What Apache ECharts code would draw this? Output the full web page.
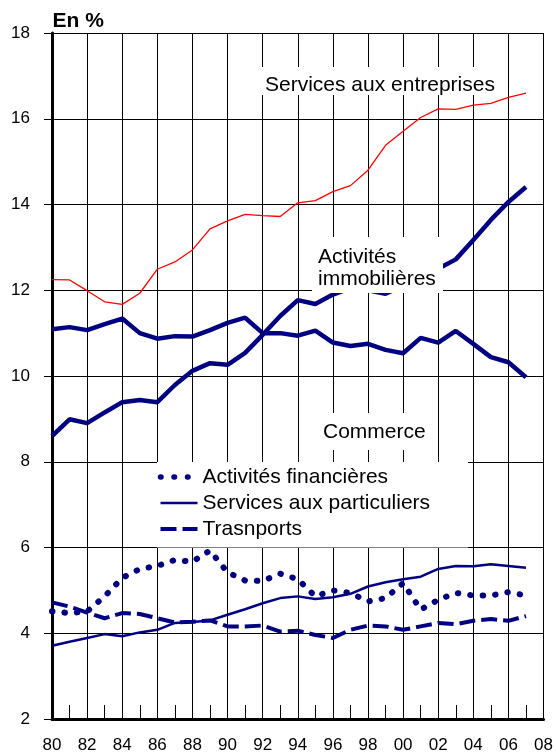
<!DOCTYPE html>
<html>
<head>
<meta charset="utf-8">
<script src="https://cdn.jsdelivr.net/npm/echarts@6/dist/echarts.min.js"></script>
<style>
  html, body { margin: 0; padding: 0; background: #fff; }
  #chart { width: 556px; height: 755px; }
</style>
</head>
<body>
<div id="chart"></div>
<script>
// Part de chaque secteur, en %, 1980-2007
const years = [1980, 1981, 1982, 1983, 1984, 1985, 1986, 1987, 1988, 1989,
               1990, 1991, 1992, 1993, 1994, 1995, 1996, 1997, 1998, 1999,
               2000, 2001, 2002, 2003, 2004, 2005, 2006, 2007];

const servicesEntreprises = [12.25, 12.24, 11.99, 11.73, 11.67, 11.93, 12.49, 12.66, 12.94, 13.43,
                             13.62, 13.77, 13.74, 13.72, 14.04, 14.09, 14.30, 14.44, 14.80, 15.38,
                             15.71, 16.03, 16.23, 16.22, 16.32, 16.36, 16.50, 16.60];

const commerce = [11.09, 11.14, 11.07, 11.21, 11.34, 11.00, 10.87, 10.93, 10.92, 11.07,
                  11.24, 11.36, 11.00, 11.00, 10.94, 11.06, 10.78, 10.70, 10.75, 10.61,
                  10.53, 10.89, 10.78, 11.05, 10.75, 10.44, 10.32, 9.97];

const immobilieres = [8.60, 8.99, 8.90, 9.15, 9.39, 9.44, 9.39, 9.79, 10.12, 10.30,
                      10.26, 10.54, 10.96, 11.40, 11.77, 11.68, 11.90, 12.05, 12.00, 11.92,
                      12.10, 12.30, 12.50, 12.72, 13.17, 13.64, 14.06, 14.41];

const financieres = [4.51, 4.47, 4.51, 4.86, 5.29, 5.50, 5.57, 5.71, 5.67, 5.93,
                     5.42, 5.23, 5.22, 5.39, 5.26, 4.86, 5.00, 4.94, 4.74, 4.82,
                     5.17, 4.55, 4.78, 4.94, 4.88, 4.88, 4.96, 4.88];

const particuliers = [3.71, 3.80, 3.89, 3.98, 3.93, 4.02, 4.08, 4.24, 4.26, 4.30,
                      4.43, 4.56, 4.70, 4.82, 4.86, 4.80, 4.84, 4.92, 5.09, 5.19,
                      5.26, 5.32, 5.50, 5.57, 5.56, 5.61, 5.57, 5.53];

const transports = [4.72, 4.62, 4.48, 4.35, 4.47, 4.45, 4.35, 4.25, 4.27, 4.30,
                    4.16, 4.16, 4.18, 4.04, 4.06, 3.96, 3.89, 4.08, 4.18, 4.16,
                    4.08, 4.16, 4.24, 4.21, 4.29, 4.33, 4.29, 4.40];

const FONT = "'Liberation Sans', Arial, Helvetica, sans-serif";
const NAVY = '#000080';

// line looks shared by the plotted series and their legend icons
const DOTS = { color: NAVY, width: 6, type: [0.5, 12], cap: 'round' };
const SOLID = { color: NAVY, width: 2.5, type: 'solid' };
const DASHES = { color: NAVY, width: 4, type: [16, 6], cap: 'butt' };

const pairs = values => years.map((y, i) => [y, values[i]]);

const lineSeries = (name, values, lineStyle) => ({
  name,
  type: 'line',
  data: pairs(values),
  symbol: 'none',
  smooth: false,
  silent: true,
  emphasis: { disabled: true },
  lineStyle: Object.assign({ color: NAVY }, lineStyle)
});

const chart = echarts.init(document.getElementById('chart'), null, { renderer: 'canvas' });

chart.setOption({
  animation: false,
  backgroundColor: '#fff',
  grid: { left: 52, right: 12, top: 33, bottom: 36, containLabel: false },
  xAxis: {
    type: 'value',
    min: 1980,
    max: 2008,
    interval: 2,
    axisLine: { show: true, onZero: false, lineStyle: { color: '#000', width: 3 } },
    axisTick: { show: true, inside: true, length: 14, lineStyle: { color: '#000', width: 1 } },
    minorTick: { show: true, splitNumber: 2, length: 14, lineStyle: { color: '#000', width: 1 } },
    splitLine: { show: true, lineStyle: { color: '#000', width: 1 } },
    axisLabel: {
      margin: 18, fontSize: 17, color: '#000', fontFamily: FONT,
      formatter: v => String(v).slice(2)
    }
  },
  yAxis: {
    type: 'value',
    min: 2,
    max: 18,
    interval: 2,
    axisLine: { show: true, onZero: false, lineStyle: { color: '#000', width: 3 } },
    axisTick: { show: true, length: 8, lineStyle: { color: '#000', width: 1 } },
    splitLine: { show: true, lineStyle: { color: '#000', width: 1 } },
    axisLabel: { margin: 22, fontSize: 17, color: '#000', fontFamily: FONT }
  },
  legend: {
    orient: 'vertical',
    left: 157,
    top: 462,
    padding: [4.5, 38, 8, 0.75],
    backgroundColor: '#fff',
    itemWidth: 37,
    itemHeight: 14,
    itemGap: 5,
    selectedMode: false,
    itemStyle: { opacity: 0 },
    textStyle: { fontSize: 21, color: '#000', fontFamily: FONT },
    data: [
      { name: 'Activités financières', lineStyle: Object.assign({}, DOTS, { width: 5.5, type: [0.5, 13] }) },
      { name: 'Services aux particuliers', lineStyle: SOLID },
      { name: 'Trasnports', lineStyle: DASHES }
    ],
    z: 5
  },
  series: [
    lineSeries('Services aux entreprises', servicesEntreprises, { color: '#ff0000', width: 1.3 }),
    lineSeries('Commerce', commerce, { width: 4.5 }),
    lineSeries('Activités immobilières', immobilieres, { width: 4.5 }),
    lineSeries('Activités financières', financieres, DOTS),
    lineSeries('Services aux particuliers', particuliers, SOLID),
    lineSeries('Trasnports', transports, DASHES)
  ],
  graphic: [
    { type: 'text', z: 101, x: 52.5, y: 20.8,
      style: { text: 'En %', font: 'bold 21px ' + FONT, fill: '#000', align: 'left', verticalAlign: 'middle' } },

    { type: 'rect', z: 100, shape: { x: 259, y: 67, width: 244, height: 28 }, style: { fill: '#fff' } },
    { type: 'text', z: 101, x: 265, y: 85.5,
      style: { text: 'Services aux entreprises', font: '21px ' + FONT, fill: '#000', align: 'left', verticalAlign: 'middle' } },

    { type: 'rect', z: 100, shape: { x: 312, y: 237, width: 131, height: 56 }, style: { fill: '#fff' } },
    { type: 'text', z: 101, x: 318, y: 257.5,
      style: { text: 'Activités', font: '21px ' + FONT, fill: '#000', align: 'left', verticalAlign: 'middle' } },
    { type: 'text', z: 101, x: 318, y: 279.2,
      style: { text: 'immobilières', font: '21px ' + FONT, fill: '#000', align: 'left', verticalAlign: 'middle' } },

    { type: 'rect', z: 100, shape: { x: 317, y: 413, width: 116, height: 37 }, style: { fill: '#fff' } },
    { type: 'text', z: 101, x: 323, y: 431.8,
      style: { text: 'Commerce', font: '21px ' + FONT, fill: '#000', align: 'left', verticalAlign: 'middle' } }
  ]
});
</script>
</body>
</html>
